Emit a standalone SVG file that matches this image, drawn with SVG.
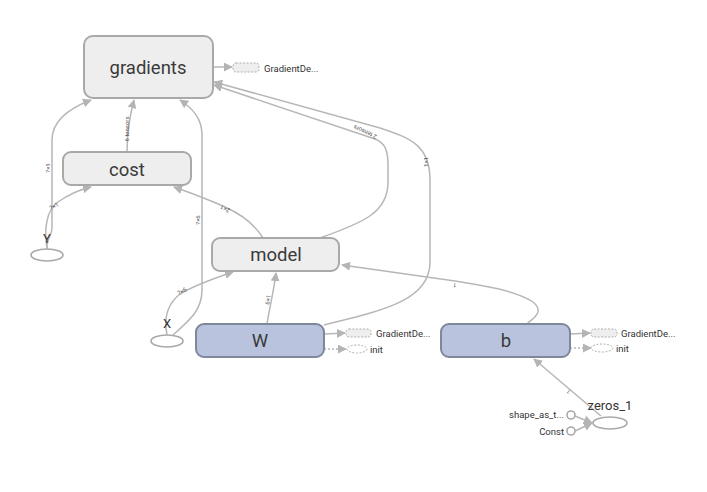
<svg xmlns="http://www.w3.org/2000/svg" width="707" height="492" viewBox="0 0 707 492">
<defs>
<marker id="arr" viewBox="0 0 10 10" refX="9" refY="5" markerWidth="9" markerHeight="9" markerUnits="userSpaceOnUse" orient="auto">
<path d="M0,0 L10,5 L0,10 z" fill="#b4b4b4"/>
</marker>
<style>
.node rect.op{fill:#eeeeee;stroke:#a9a9a9;stroke-width:2}
.node rect.var{fill:#b9c3dd;stroke:#7f879b;stroke-width:2}
.node ellipse.ph{fill:#ffffff;stroke:#a9a9a9;stroke-width:1.6}
.lbl{font-family:Roboto,"Liberation Sans",sans-serif;fill:#3a3a3a;text-anchor:middle}
.big{font-size:18.5px}
.small{font-family:Roboto,"Liberation Sans",sans-serif;fill:#333;font-size:9.5px}
.mid{font-family:Roboto,"Liberation Sans",sans-serif;fill:#333;font-size:13px;text-anchor:middle}
.edge{fill:none;stroke:#b7b7b7;stroke-width:1.5;marker-end:url(#arr)}
.dedge{fill:none;stroke:#b7b7b7;stroke-width:1.5;stroke-dasharray:2,2;marker-end:url(#arr)}
.elbl{font-family:Roboto,"Liberation Sans",sans-serif;fill:#555;font-size:6px;text-anchor:middle}
.aux{fill:#eeeeee;stroke:#b0b0b0;stroke-width:1;stroke-dasharray:2,1.5}
.auxe{fill:#ffffff;stroke:#b0b0b0;stroke-width:1;stroke-dasharray:2,1.5}
.cst{fill:#ffffff;stroke:#a9a9a9;stroke-width:1.6}
</style>
</defs>
<rect width="707" height="492" fill="#ffffff"/>

<g id="connectors">
<!-- cost -> gradients -->
<path class="edge" d="M127,152 C127,130 130,115 134,100"/>
<!-- Y -> gradients -->
<path class="edge" d="M47,249 C46,240 52,235 52,228 L52,140 C52,120 70,108 91,100"/>
<!-- Y -> cost -->
<path class="edge" d="M47,249 C44,230 46,210 58,202 C68,195 78,190 91,187"/>
<!-- X -> gradients -->
<path class="edge" d="M173,335 C190,320 202,310 202,290 L202,135 C202,118 192,108 180,100"/>
<!-- X -> model -->
<path class="edge" d="M167,335 C164,320 166,305 180,294 C195,285 215,278 233,272"/>
<!-- model -> cost -->
<path class="edge" d="M263,238 C255,225 243,215 225,207 C205,198 188,192 174,187"/>
<!-- W -> model -->
<path class="edge" d="M267,324 C270,305 274,290 276,273"/>
<!-- W -> gradients -->
<path class="edge" d="M324,325 C385,310 430,300 430,262 L430,180 C430,145 410,138 380,128 L214,82"/>
<!-- model -> gradients -->
<path class="edge" d="M320,238 C365,222 388,212 388,182 L388,165 C388,150 385,143 375,139 L214,85"/>
<!-- b -> model -->
<path class="edge" d="M527,324 C533,318 545,312 533,302 C515,290 480,285 455,281 L342,265"/>
<!-- zeros_1 -> b -->
<path class="edge" d="M601,416 L534,359"/>
<!-- shape_as_t / Const -> zeros_1 -->
<path class="edge" d="M575,416 L592,423"/>
<path class="edge" d="M575,431 L592,423"/>
<!-- to auxiliary nodes -->
<path class="edge" d="M213,67 L232,67"/>
<path class="edge" d="M324,334 L345,333"/>
<path class="dedge" d="M324,349 L346,349"/>
<path class="edge" d="M570,334 L590,333"/>
<path class="dedge" d="M570,348 L591,348"/>

<!-- edge labels -->
<text class="elbl" transform="translate(129,129) rotate(-90)">6 tensors</text>
<text class="elbl" transform="translate(50,168) rotate(-90)">?×1</text>
<text class="elbl" transform="translate(55,208) rotate(-30)">?×1</text>
<text class="elbl" transform="translate(200,220) rotate(-90)">?×6</text>
<text class="elbl" transform="translate(183,293) rotate(-30)">?×6</text>
<text class="elbl" transform="translate(226,207) rotate(-152)">2×1</text>
<text class="elbl" transform="translate(270,300) rotate(-80)">6×1</text>
<text class="elbl" transform="translate(366,130) rotate(-155)">2 tensors</text>
<text class="elbl" transform="translate(428,162) rotate(-90)">1×1</text>
<text class="elbl" transform="translate(455,283) rotate(-171)">1</text>
<text class="elbl" transform="translate(570,390) rotate(-140)">1</text>
</g>

<g id="gradients" class="node">
<rect class="op" x="84" y="36" width="129" height="62" rx="9"/>
<text class="lbl big" x="148" y="74">gradients</text>
</g>
<g id="gradients_aux">
<rect class="aux" x="233" y="63" width="26" height="9" rx="3"/>
<text class="small" x="264" y="71.5">GradientDe...</text>
</g>

<g id="cost" class="node">
<rect class="op" x="63" y="152" width="128" height="33" rx="8"/>
<text class="lbl big" x="127" y="176">cost</text>
</g>

<g id="Y" class="node">
<ellipse class="ph" cx="47" cy="255" rx="16" ry="6"/>
<text class="mid" x="47" y="243">Y</text>
</g>

<g id="model" class="node">
<rect class="op" x="212" y="238" width="127" height="33" rx="8"/>
<text class="lbl big" x="276" y="261">model</text>
</g>

<g id="X" class="node">
<ellipse class="ph" cx="167" cy="341" rx="16" ry="6"/>
<text class="mid" x="167" y="328">X</text>
</g>

<g id="W" class="node">
<rect class="var" x="196" y="324" width="128" height="33" rx="8"/>
<text class="lbl big" x="260" y="347">W</text>
</g>
<g id="W_aux">
<rect class="aux" x="346" y="329" width="25" height="8" rx="3"/>
<text class="small" x="376" y="336.5">GradientDe...</text>
<ellipse class="auxe" cx="357" cy="349" rx="10" ry="4"/>
<text class="small" x="370" y="352.5">init</text>
</g>

<g id="b" class="node">
<rect class="var" x="441" y="324" width="129" height="33" rx="8"/>
<text class="lbl big" x="506" y="347">b</text>
</g>
<g id="b_aux">
<rect class="aux" x="591" y="329" width="26" height="8" rx="3"/>
<text class="small" x="621" y="336.5">GradientDe...</text>
<ellipse class="auxe" cx="602" cy="348" rx="11" ry="4"/>
<text class="small" x="616" y="352">init</text>
</g>

<g id="zeros_1" class="node">
<ellipse class="ph" cx="610" cy="423" rx="17" ry="6"/>
<text class="mid" x="610" y="410">zeros_1</text>
</g>
<g id="shape_as_tensor" class="node">
<circle class="cst" cx="571" cy="415" r="4"/>
<text class="small" x="564" y="418" text-anchor="end">shape_as_t...</text>
</g>
<g id="Const" class="node">
<circle class="cst" cx="571" cy="431" r="4"/>
<text class="small" x="564" y="435" text-anchor="end">Const</text>
</g>
</svg>
